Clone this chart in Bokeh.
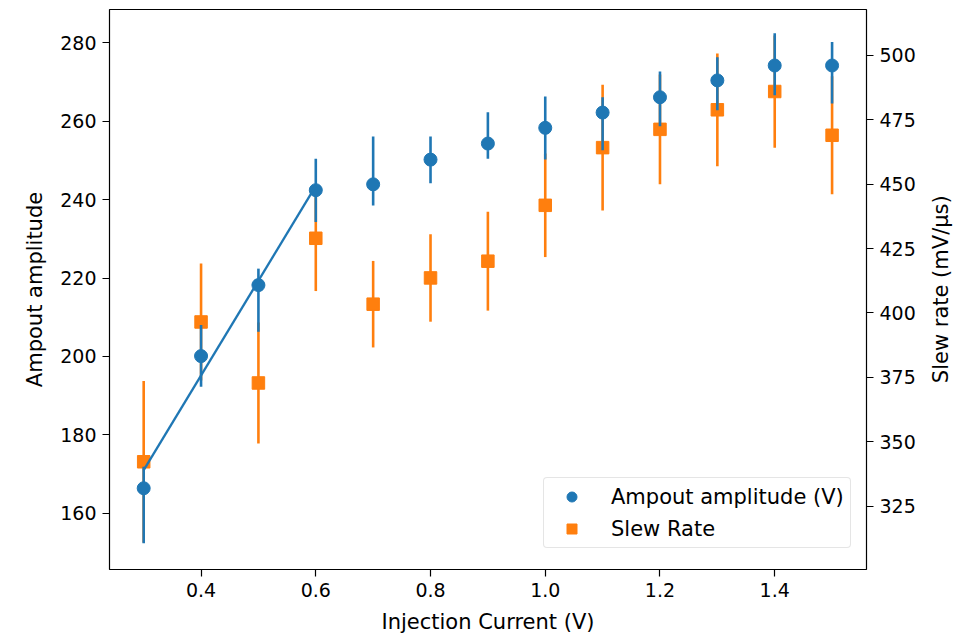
import math
from bokeh.plotting import figure
from bokeh.models import Range1d, LinearAxis, FixedTicker, Legend, LegendItem, ColumnDataSource, Label
from bokeh.embed import file_html
from bokeh.resources import INLINE

# ---- data ----
current = [0.3, 0.4, 0.5, 0.6, 0.7, 0.8, 0.9, 1.0, 1.1, 1.2, 1.3, 1.4, 1.5]
amp = [166.4, 200.1, 218.2, 242.4, 243.9, 250.2, 254.3, 258.3, 262.2, 266.1, 270.4, 274.2, 274.2]
amp_low = [152.4, 192.3, 206.3, 234.3, 238.5, 244.2, 250.4, 250.2, 252.6, 258.7, 262.8, 266.6, 264.5]
amp_high = [171.9, 208.0, 222.4, 250.4, 256.1, 256.1, 262.3, 266.3, 266.1, 272.7, 276.3, 282.4, 280.2]
slew = [342.2, 396.5, 372.8, 429.0, 403.4, 413.6, 420.1, 441.8, 464.2, 471.3, 478.9, 486.0, 469.0]
slew_err = [31.4, 22.7, 23.5, 20.5, 16.8, 17.0, 19.2, 20.1, 24.4, 21.3, 21.9, 21.8, 22.9]
fit_x = [0.3, 0.6]
fit_y = [171.0, 243.5]

x_ticks = [0.4, 0.6, 0.8, 1.0, 1.2, 1.4]
x_tick_labels = ["0.4", "0.6", "0.8", "1.0", "1.2", "1.4"]
amp_ticks = [160, 180, 200, 220, 240, 260, 280]
slew_ticks = [325, 350, 375, 400, 425, 450, 475, 500]

BLUE = "#1f77b4"
ORANGE = "#ff7f0e"
FONT = "DejaVu Sans"

src_amp = ColumnDataSource(dict(x=current, y=amp, lo=amp_low, hi=amp_high))
src_slew = ColumnDataSource(dict(
    x=current, y=slew,
    lo=[v - e for v, e in zip(slew, slew_err)],
    hi=[v + e for v, e in zip(slew, slew_err)],
))

p = figure(width=974, height=636, output_backend="svg", toolbar_location=None,
           x_range=Range1d(0.2404, 1.56), y_range=Range1d(145.68, 288.48),
           min_border_left=109, min_border_right=108, min_border_top=9, min_border_bottom=66)
p.extra_y_ranges = {"slew": Range1d(300.36, 517.85)}
p.background_fill_color = "white"
p.border_fill_color = "white"
p.outline_line_color = "black"
p.outline_line_width = 1.2
p.grid.visible = False

right = LinearAxis(y_range_name="slew")
p.add_layout(right, "right")

p.xaxis.axis_label = "Injection Current (V)"
p.yaxis[0].axis_label = "Ampout amplitude"

p.xaxis.ticker = FixedTicker(ticks=x_ticks)
p.xaxis.major_label_overrides = {t: l for t, l in zip(x_ticks, x_tick_labels)}
p.yaxis[0].ticker = FixedTicker(ticks=amp_ticks)
right.ticker = FixedTicker(ticks=slew_ticks)

for ax in [p.xaxis[0], p.yaxis[0], right]:
    ax.axis_line_color = None
    ax.major_tick_line_color = "black"
    ax.major_tick_line_width = 1.2
    ax.major_tick_out = 7
    ax.major_tick_in = 0
    ax.minor_tick_line_color = None
    ax.major_label_text_font = FONT
    ax.major_label_text_font_size = "19px"
    ax.major_label_text_color = "black"
    ax.major_label_standoff = 6
    ax.axis_label_text_font = FONT
    ax.axis_label_text_font_size = "21px"
    ax.axis_label_text_font_style = "normal"
    ax.axis_label_text_color = "black"
    ax.axis_label_standoff = 10

# right-hand axis title, reading bottom-to-top as in the reference
right_title = Label(x=1.689, y=217.15, x_units="data", y_units="data",
                    text="Slew rate (mV/\u03bcs)", angle=math.pi / 2,
                    text_align="center", text_baseline="middle",
                    text_font=FONT, text_font_size="21px", text_color="black")
p.add_layout(right_title, "right")

# slew rate (drawn first, beneath)
p.segment(x0="x", y0="lo", x1="x", y1="hi", source=src_slew, line_color=ORANGE,
          line_width=2.6, y_range_name="slew")
r_slew = p.scatter(x="x", y="y", source=src_slew, marker="square", size=12.5,
                   fill_color=ORANGE, line_color=ORANGE, y_range_name="slew")

# amplitude
p.segment(x0="x", y0="lo", x1="x", y1="hi", source=src_amp, line_color=BLUE, line_width=2.6)
r_amp = p.scatter(x="x", y="y", source=src_amp, marker="circle", size=13,
                  fill_color=BLUE, line_color=BLUE)
p.line(x=fit_x, y=fit_y, line_color=BLUE, line_width=2.3)

legend = Legend(items=[LegendItem(label="Ampout amplitude (V)", renderers=[r_amp]),
                       LegendItem(label="Slew Rate", renderers=[r_slew])],
                location=(434, 21))
legend.padding = 6
legend.spacing = 7
legend.margin = 0
legend.glyph_height = 25
legend.glyph_width = 43
legend.label_height = 25
legend.label_standoff = 18
legend.label_text_font = FONT
legend.label_text_font_size = "21px"
legend.label_text_color = "black"
legend.border_line_color = "#cccccc"
legend.border_line_width = 1
legend.background_fill_alpha = 0.8
try:
    legend.border_radius = 4
except Exception:
    pass
p.add_layout(legend)

open("out.html", "w").write(file_html(p, INLINE))
